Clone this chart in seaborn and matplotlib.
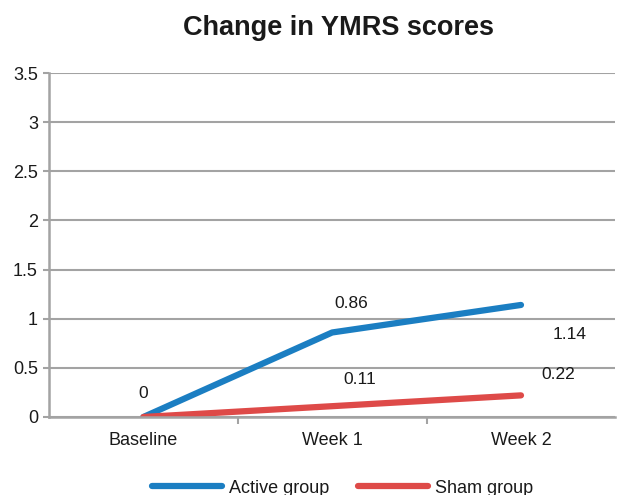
import pandas as pd
import matplotlib
matplotlib.use("Agg")
import matplotlib.pyplot as plt
import seaborn as sns

# === Data ===
timepoints = ["Baseline", "Week 1", "Week 2"]
active_scores = [0, 0.86, 1.14]
sham_scores = [0, 0.11, 0.22]
active_labels = ["0", "0.86", "1.14"]
sham_labels = ["", "0.11", "0.22"]

ACTIVE_COLOR = "#1b7ec2"
SHAM_COLOR = "#de4a48"
GRID_COLOR = "#a3a3a3"

sns.set_theme(style="white")
plt.rcParams["font.family"] = ["Liberation Sans", "DejaVu Sans"]

df = pd.DataFrame({
    "time": timepoints * 2,
    "score": active_scores + sham_scores,
    "group": ["Active group"] * 3 + ["Sham group"] * 3,
})

fig = plt.figure(figsize=(6.17, 4.95), dpi=100)
ax = fig.add_axes([0.0794, 0.1576, 0.918, 0.6949])

sns.lineplot(data=df, x="time", y="score", hue="group",
             palette=[ACTIVE_COLOR, SHAM_COLOR], linewidth=4.5,
             solid_capstyle="round", sort=False, ax=ax, legend=False)

ax.set_xlim(-0.5, 2.5)
ax.set_ylim(0, 3.5)
ax.set_yticks([0, 0.5, 1, 1.5, 2, 2.5, 3, 3.5])
ax.set_yticklabels(["0", "0.5", "1", "1.5", "2", "2.5", "3", "3.5"])
ax.set_xticks([0, 1, 2])
ax.set_xticklabels(timepoints)
ax.set_xticks([0.5, 1.5], minor=True)
ax.set_xlabel("")
ax.set_ylabel("")

ax.grid(axis="y", color=GRID_COLOR, linewidth=1.5)
ax.set_axisbelow(True)
for side in ["top", "right"]:
    ax.spines[side].set_visible(False)
for side in ["left", "bottom"]:
    ax.spines[side].set_color(GRID_COLOR)
    ax.spines[side].set_linewidth(1.8)

ax.tick_params(axis="y", which="major", length=4, width=1.5, color=GRID_COLOR,
               labelsize=13, pad=4, left=True, labelcolor="#1a1a1a")
ax.tick_params(axis="x", which="major", length=0, labelsize=13, pad=11,
               labelcolor="#1a1a1a")
ax.tick_params(axis="x", which="minor", length=5, width=1.5, color=GRID_COLOR,
               bottom=True)

# value labels (offsets in points)
active_offsets = [(0, 17), (14, 21), (35, -21)]
sham_offsets = [(0, 0), (20, 19), (27, 15)]
for i, t in enumerate(active_labels):
    ax.annotate(t, (i, active_scores[i]), xytext=active_offsets[i],
                textcoords="offset points", ha="center", va="center",
                fontsize=12.5, color="#1a1a1a")
for i, t in enumerate(sham_labels):
    if t:
        ax.annotate(t, (i, sham_scores[i]), xytext=sham_offsets[i],
                    textcoords="offset points", ha="center", va="center",
                    fontsize=12.5, color="#1a1a1a")

fig.text(0.548, 0.943, "Change in YMRS scores", ha="center", va="center",
         fontsize=19.5, fontweight="bold", color="#1a1a1a")

handles = [plt.Line2D([], [], color=ACTIVE_COLOR, linewidth=4.5, solid_capstyle="round"),
           plt.Line2D([], [], color=SHAM_COLOR, linewidth=4.5, solid_capstyle="round")]
fig.legend(handles, ["Active group", "Sham group"], loc="center",
           bbox_to_anchor=(0.555, 0.014), ncol=2, frameon=False, fontsize=13,
           handlelength=3.9, columnspacing=1.6, handletextpad=0.35,
           labelcolor="#1a1a1a")

fig.savefig("out.png", dpi=100)
